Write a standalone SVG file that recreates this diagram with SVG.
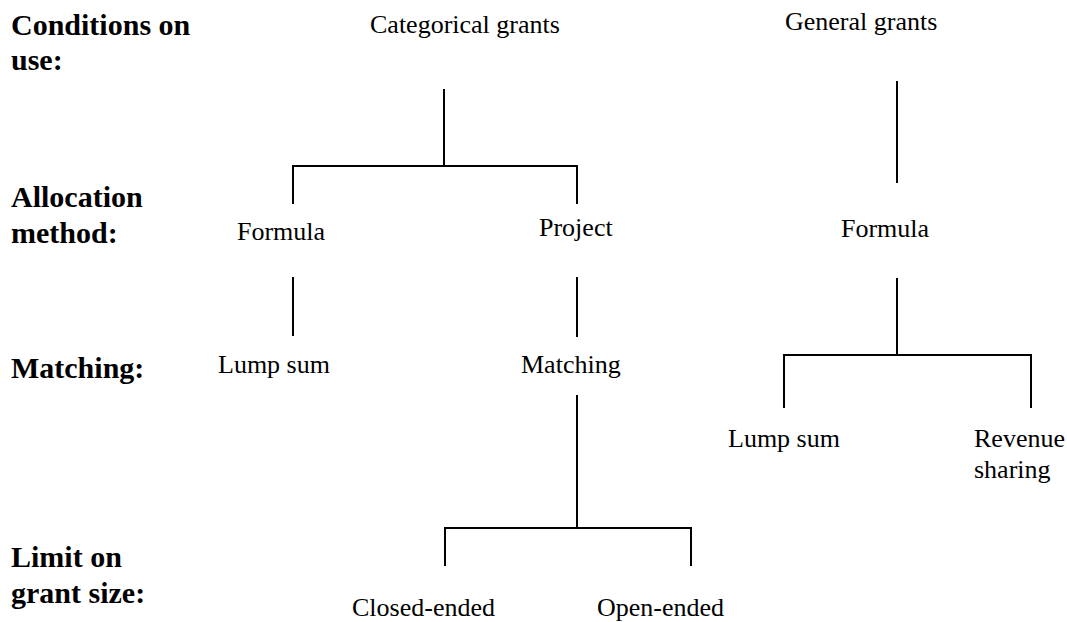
<svg xmlns="http://www.w3.org/2000/svg" width="1067" height="622" viewBox="0 0 1067 622">
<style>
.h{font-weight:bold;font-size:30px;fill:#000}
.t{font-size:26px;fill:#000}
.c line{stroke:#000;stroke-width:2;fill:none}
</style>
<rect width="1067" height="622" fill="#fff"/>
<g font-family="Liberation Serif, Times New Roman, serif">
<g id="row-labels">
<text class="h" x="11" y="35">Conditions on</text>
<text class="h" x="11" y="70">use:</text>
<text class="h" x="11" y="207">Allocation</text>
<text class="h" x="11" y="243">method:</text>
<text class="h" x="11" y="378">Matching:</text>
<text class="h" x="11" y="567">Limit on</text>
<text class="h" x="11" y="603">grant size:</text>
</g>
<g id="categorical"><text class="t" x="370" y="33">Categorical grants</text></g>
<g id="general"><text class="t" x="785" y="30">General grants</text></g>
<g id="formula-left"><text class="t" x="237" y="240">Formula</text></g>
<g id="project"><text class="t" x="539" y="236">Project</text></g>
<g id="formula-right"><text class="t" x="841" y="237">Formula</text></g>
<g id="lump-left"><text class="t" x="218" y="373">Lump sum</text></g>
<g id="matching"><text class="t" x="521" y="373">Matching</text></g>
<g id="lump-right"><text class="t" x="728" y="447">Lump sum</text></g>
<g id="revenue"><text class="t" x="974" y="447">Revenue</text><text class="t" x="974" y="478">sharing</text></g>
<g id="closed"><text class="t" x="352" y="616">Closed-ended</text></g>
<g id="open"><text class="t" x="597" y="616">Open-ended</text></g>
</g>
<g id="connectors" class="c">
<line x1="444" y1="89" x2="444" y2="166"/>
<line x1="292" y1="166" x2="578" y2="166"/>
<line x1="293" y1="166" x2="293" y2="204"/>
<line x1="577" y1="166" x2="577" y2="204"/>
<line x1="293" y1="277" x2="293" y2="336"/>
<line x1="577" y1="277" x2="577" y2="337"/>
<line x1="897" y1="81" x2="897" y2="183"/>
<line x1="897" y1="278" x2="897" y2="355"/>
<line x1="783" y1="355" x2="1032" y2="355"/>
<line x1="784" y1="355" x2="784" y2="408"/>
<line x1="1031" y1="355" x2="1031" y2="408"/>
<line x1="577" y1="395" x2="577" y2="528"/>
<line x1="444" y1="528" x2="692" y2="528"/>
<line x1="445" y1="528" x2="445" y2="566"/>
<line x1="691" y1="528" x2="691" y2="566"/>
</g>
</svg>
